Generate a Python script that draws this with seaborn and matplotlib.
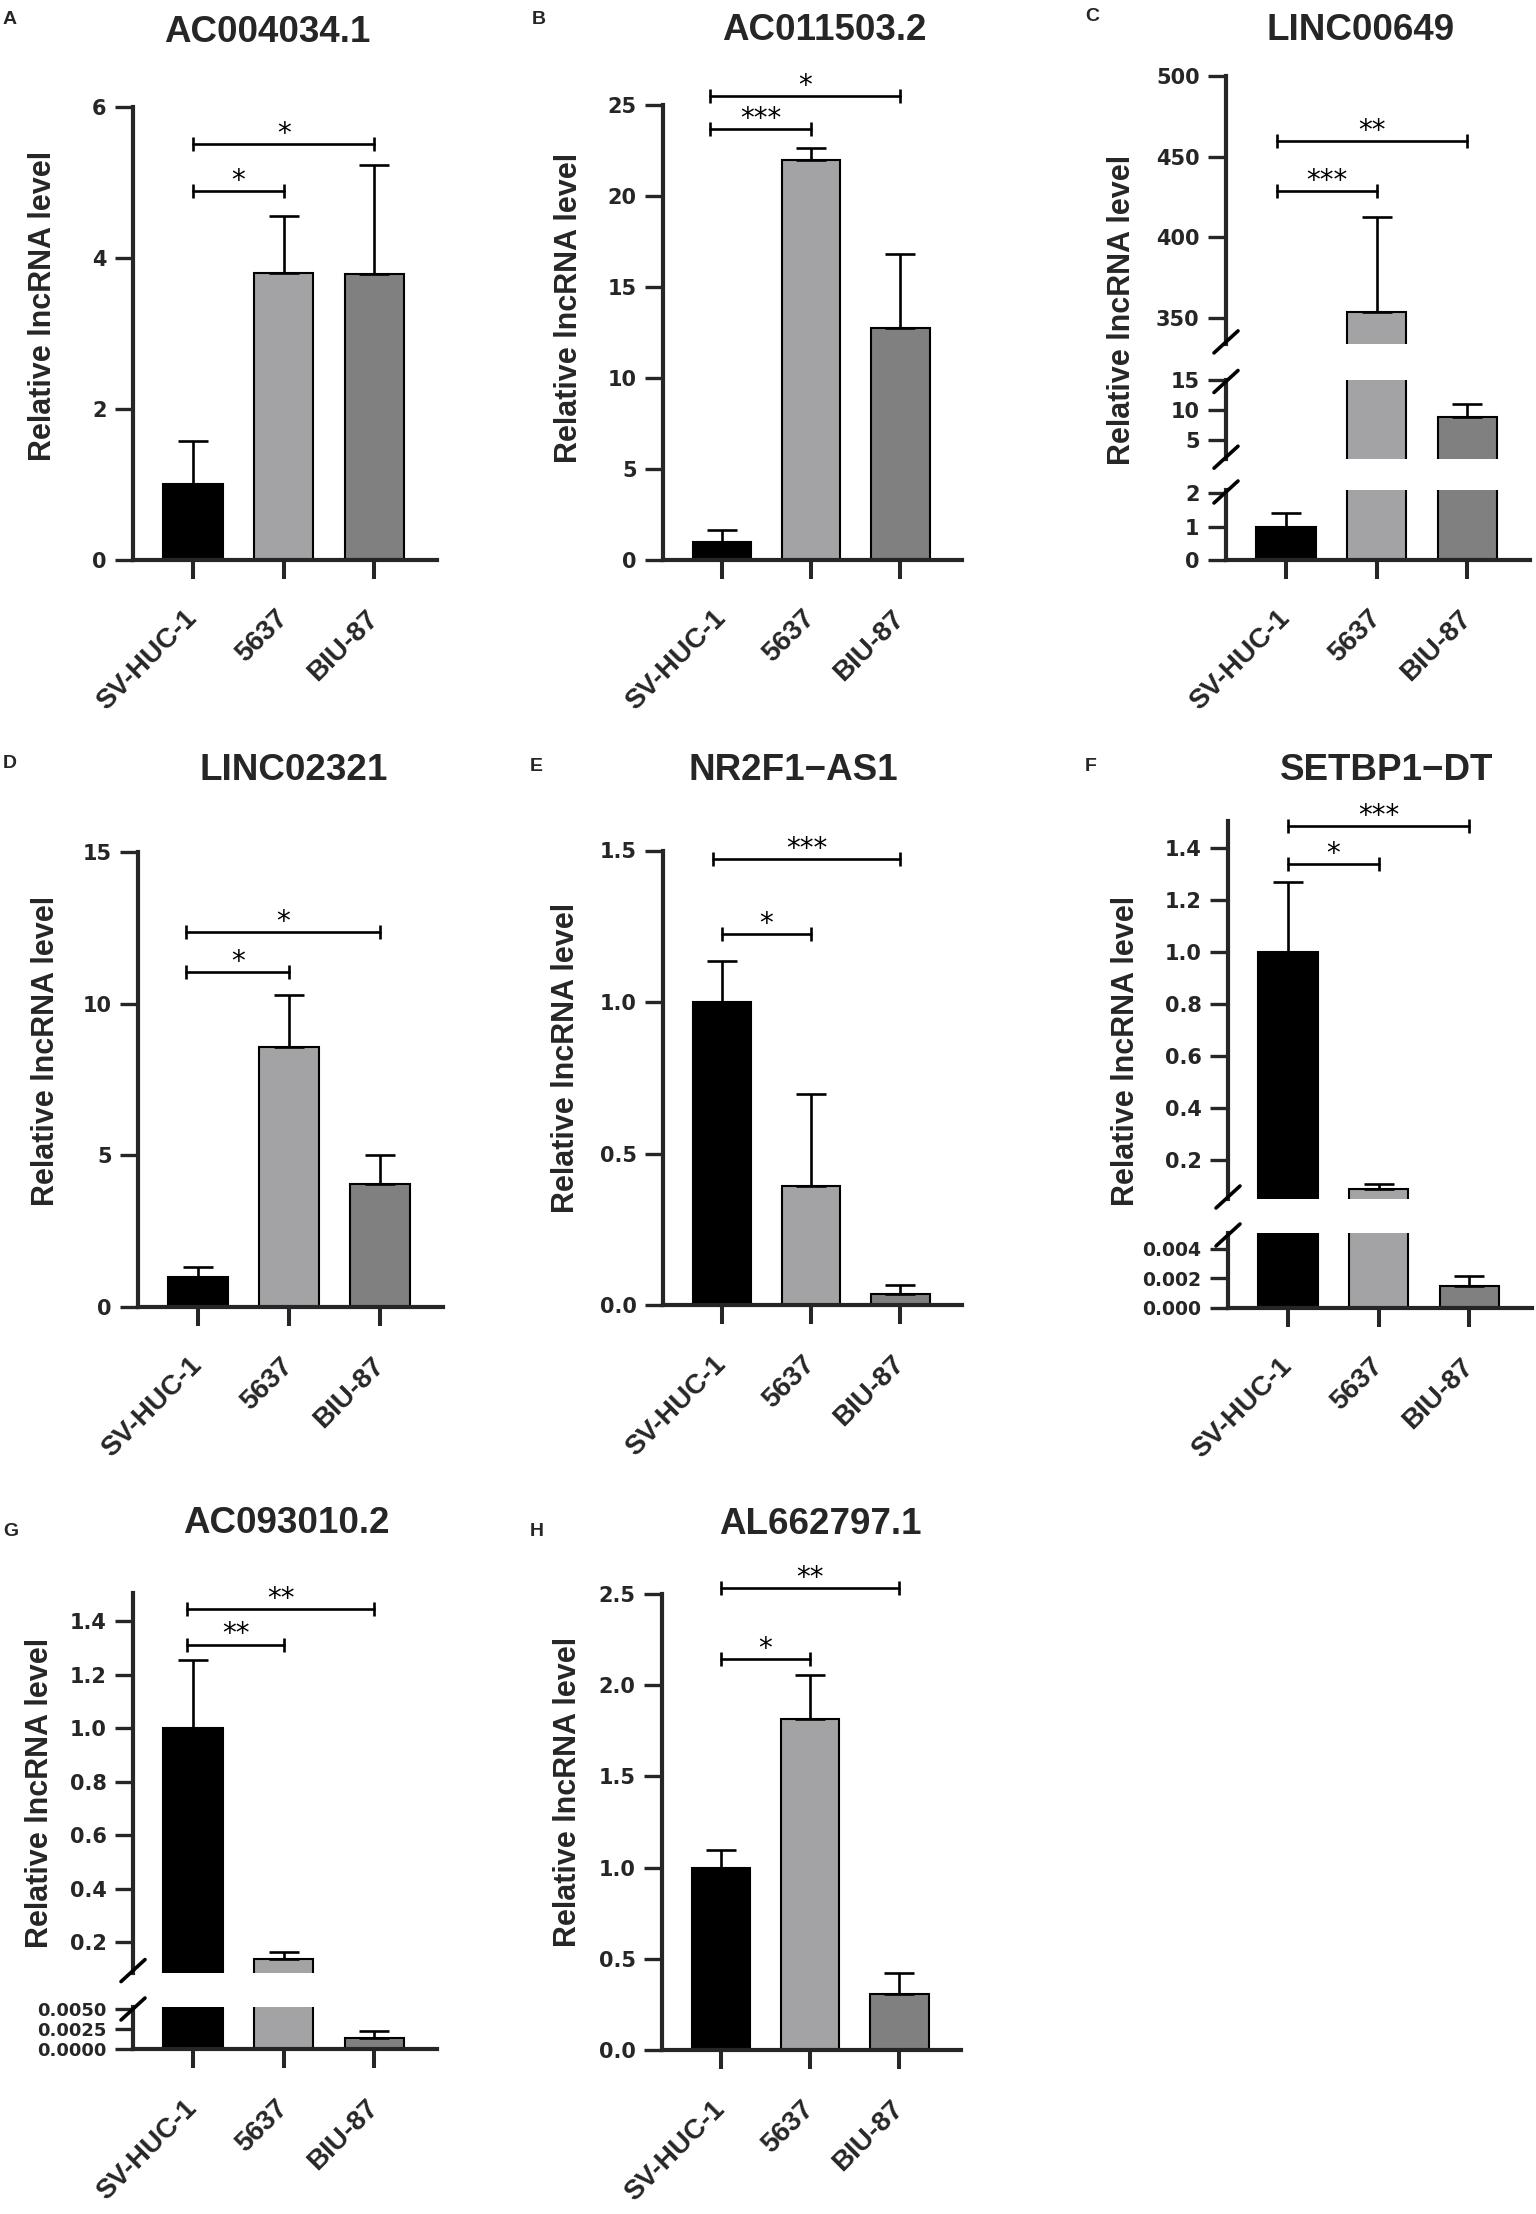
import numpy as np
import matplotlib
matplotlib.use("Agg")
import matplotlib.pyplot as plt
from matplotlib.lines import Line2D
from matplotlib import font_manager as fm
import seaborn as sns

# ---------------- data ----------------
cell_lines = ["SV-HUC-1", "5637", "BIU-87"]
bar_colors = ["#000000", "#a3a3a7", "#808080"]

genes = ["AC004034.1", "AC011503.2", "LINC00649", "LINC02321",
         "NR2F1\u2212AS1", "SETBP1\u2212DT", "AC093010.2", "AL662797.1"]
panel_letters = ["A", "B", "C", "D", "E", "F", "G", "H"]

mean_A = [1.00, 3.80, 3.78]
sd_A = [0.57, 0.75, 1.45]
mean_B = [1.00, 21.97, 12.77]
sd_B = [0.62, 0.70, 4.03]
mean_C = [1.00, 353.8, 8.8]
sd_C = [0.40, 58.8, 2.2]
mean_D = [1.00, 8.57, 4.04]
sd_D = [0.33, 1.72, 0.97]
mean_E = [1.00, 0.394, 0.039]
sd_E = [0.136, 0.302, 0.028]
mean_F = [1.00, 0.091, 0.0015]
sd_F = [0.269, 0.018, 0.00067]
mean_G = [1.00, 0.138, 0.00147]
sd_G = [0.254, 0.026, 0.00088]
mean_H = [1.00, 1.817, 0.307]
sd_H = [0.095, 0.237, 0.116]

# significance brackets: (from, to, height, label)
sig_A = [(0, 1, 4.88, "*"), (0, 2, 5.51, "*")]
sig_B = [(0, 1, 23.7, "***"), (0, 2, 25.5, "*")]
sig_C = [(0, 1, 428.5, "***"), (0, 2, 459.4, "**")]
sig_D = [(0, 1, 11.04, "*"), (0, 2, 12.37, "*")]
sig_E = [(0, 1, 1.226, "*"), (0, 2, 1.473, "***")]
sig_F = [(0, 1, 1.338, "*"), (0, 2, 1.484, "***")]
sig_G = [(0, 1, 1.312, "**"), (0, 2, 1.444, "**")]
sig_H = [(0, 1, 2.144, "*"), (0, 2, 2.531, "**")]

# y-axis segments per panel (broken axes), bottom -> top: (ylim, ticks, tick format)
segs_A = [((0, 6), [0, 2, 4, 6], "%d")]
segs_B = [((0, 25), [0, 5, 10, 15, 20, 25], "%d")]
segs_C = [((0, 2.1), [0, 1, 2], "%d"),
          ((1.8, 15.15), [5, 10, 15], "%d"),
          ((333.8, 500), [350, 400, 450, 500], "%d")]
segs_D = [((0, 15), [0, 5, 10, 15], "%d")]
segs_E = [((0, 1.5), [0.0, 0.5, 1.0, 1.5], "%.1f")]
segs_F = [((0, 0.00507), [0.0, 0.002, 0.004], "%.3f"),
          ((0.051, 1.505), [0.2, 0.4, 0.6, 0.8, 1.0, 1.2, 1.4], "%.1f")]
segs_G = [((0, 0.0053), [0.0, 0.0025, 0.0050], "%.4f"),
          ((0.086, 1.505), [0.2, 0.4, 0.6, 0.8, 1.0, 1.2, 1.4], "%.1f")]
segs_H = [((0, 2.5), [0.0, 0.5, 1.0, 1.5, 2.0, 2.5], "%.1f")]

ylabel_text = "Relative lncRNA level"

# ---------------- layout (pixels of the 1536x2214 canvas) ----------------
W, H = 1536, 2214
layout = {
    "A": dict(x0=133, x1=437, seg_px=[(106.7, 559.5)], title=(267, 41.7),
              letter=(3, 23.7), ylab=(43, 306), bx=[0, 0], tsize=[15]),
    "B": dict(x0=663, x1=962, seg_px=[(105.3, 559.7)], title=(824, 40.3),
              letter=(532, 23.7), ylab=(569, 308), bx=[-0.13, -0.13], tsize=[15]),
    "C": dict(x0=1226, x1=1530, seg_px=[(490.0, 559.7), (379.5, 459.2), (75.9, 343.9)],
              title=(1361, 40.3), letter=(1085, 21.3), ylab=(1122, 309.5),
              bx=[-0.1, -0.1], tsize=[15, 15, 15]),
    "D": dict(x0=138, x1=443, seg_px=[(852.4, 1306.9)], title=(294, 780.3),
              letter=(3, 768.5), ylab=(46, 1050.7), bx=[-0.13, -0.13], tsize=[15]),
    "E": dict(x0=663, x1=962, seg_px=[(850.5, 1305.4)], title=(793, 780.3),
              letter=(530, 770.8), ylab=(566, 1057.8), bx=[0, -0.1], tsize=[15]),
    "F": dict(x0=1228, x1=1532, seg_px=[(1233.0, 1307.8), (820.6, 1199.0)],
              title=(1387, 780.3), letter=(1085, 770.8), ylab=(1126, 1050.7),
              bx=[0, 0], tsize=[13.5, 15]),
    "G": dict(x0=133, x1=437, seg_px=[(2007.0, 2049.3), (1592.9, 1972.6)],
              title=(286, 1532.7), letter=(3, 1536.5), ylab=(40, 1792.9),
              bx=[-0.06, -0.06], tsize=[13, 15]),
    "H": dict(x0=662, x1=961, seg_px=[(1593.9, 2050.3)], title=(820, 1534.1),
              letter=(530, 1536.5), ylab=(568, 1791.7), bx=[0, 0], tsize=[15]),
}

panels = [
    ("A", genes[0], mean_A, sd_A, sig_A, segs_A),
    ("B", genes[1], mean_B, sd_B, sig_B, segs_B),
    ("C", genes[2], mean_C, sd_C, sig_C, segs_C),
    ("D", genes[3], mean_D, sd_D, sig_D, segs_D),
    ("E", genes[4], mean_E, sd_E, sig_E, segs_E),
    ("F", genes[5], mean_F, sd_F, sig_F, segs_F),
    ("G", genes[6], mean_G, sd_G, sig_G, segs_G),
    ("H", genes[7], mean_H, sd_H, sig_H, segs_H),
]

# ---------------- style ----------------
sns.set_style("ticks")
installed = {f.name for f in fm.fontManager.ttflist}
main_family = ["Liberation Sans", "DejaVu Sans"] if "Liberation Sans" in installed else ["DejaVu Sans"]
plt.rcParams["font.family"] = main_family
plt.rcParams["axes.linewidth"] = 3.0
tick_family = ["DejaVu Sans"]


def frac(x, y):
    return x / W, 1 - y / H


fig = plt.figure(figsize=(W / 100, H / 100), dpi=100)
fig.patch.set_facecolor("white")

for letter, gene, means, sds, sigs, segs in panels:
    lay = layout[letter]
    x0, x1 = lay["x0"], lay["x1"]
    tops = np.array(means) + np.array(sds)
    axes = []
    for k, ((ylo, yhi), ticks, tfmt) in enumerate(segs):
        ptop, pbot = lay["seg_px"][k]
        rect = [x0 / W, 1 - pbot / H, (x1 - x0) / W, (pbot - ptop) / H]
        ax = fig.add_axes(rect)
        sns.barplot(x=cell_lines, y=means, hue=cell_lines, palette=bar_colors,
                    order=cell_lines, hue_order=cell_lines, width=0.655,
                    edgecolor="black", linewidth=1.5, errorbar=None,
                    legend=False, ax=ax, zorder=2)
        # error bars only where their top lies inside this segment
        idx = [i for i in range(3) if ylo < tops[i] <= yhi]
        if idx:
            ax.errorbar(np.array(idx), np.array(means)[idx],
                        yerr=[np.zeros(len(idx)), np.array(sds)[idx]], fmt="none",
                        ecolor="black", elinewidth=1.9, capsize=10.8, capthick=1.9,
                        zorder=3)
        ax.set_xlim(-0.66, 2.69)
        ax.set_ylim(ylo, yhi)
        ax.set_yticks(ticks)
        ax.set_yticklabels([tfmt % t for t in ticks], fontsize=lay["tsize"][k],
                           fontweight="bold", family=tick_family)
        ax.tick_params(axis="y", length=13, width=2.4, pad=6, direction="out")
        ax.set_ylabel("")
        ax.set_xlabel("")
        ax.spines["top"].set_visible(False)
        ax.spines["right"].set_visible(False)
        ax.spines["left"].set_linewidth(3.0)
        if k == 0:
            ax.spines["bottom"].set_linewidth(3.0)
            ax.set_xticks(range(3))
            ax.set_xticklabels(cell_lines, rotation=45, ha="right", va="center",
                               rotation_mode="anchor", fontsize=20,
                               fontweight="bold")
            ax.tick_params(axis="x", length=13.5, width=2.9, pad=26, direction="out")
        else:
            ax.spines["bottom"].set_visible(False)
            ax.set_xticks([])
        ax.patch.set_alpha(0)
        axes.append(ax)

    # break marks on the left spine
    if len(segs) > 1:
        for k in range(len(segs)):
            ptop, pbot = lay["seg_px"][k]
            ends = []
            if k < len(segs) - 1:
                ends.append(ptop + 2)
            if k > 0:
                ends.append(pbot - 2)
            for yp in ends:
                xa, ya = frac(x0 - 12, yp + 11)
                xb, yb = frac(x0 + 12, yp - 11)
                fig.add_artist(Line2D([xa, xb], [ya, yb], color="black",
                                      lw=2.6, transform=fig.transFigure))

    # significance brackets on the top segment
    top_ax = axes[-1]
    for n, (i, j, yv, lab) in enumerate(sigs):
        xs = i + lay["bx"][n]
        top_ax.plot([xs, j], [yv, yv], color="black", lw=1.9, marker="|",
                    markersize=10, mew=1.9, clip_on=False, zorder=4)
        top_ax.annotate(lab, xy=((xs + j) / 2, yv), xytext=(0, 1.5),
                        textcoords="offset points", ha="center", va="baseline",
                        fontsize=20, family=["DejaVu Sans"], color="black",
                        annotation_clip=False)

    # title, panel letter, y label
    tx, ty = frac(*lay["title"])
    fig.text(tx, ty, gene, ha="center", va="baseline", fontsize=26.5,
             fontweight="bold")
    lx, ly = frac(*lay["letter"])
    fig.text(lx, ly, letter, ha="left", va="baseline", fontsize=14,
             fontweight="bold")
    yx, yy = frac(*lay["ylab"])
    fig.text(yx, yy, ylabel_text, rotation=90, ha="center", va="center",
             fontsize=22, fontweight="bold")

fig.savefig("out.png", dpi=100, facecolor="white")
